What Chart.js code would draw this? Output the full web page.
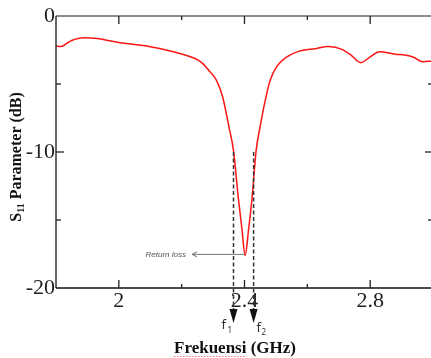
<!DOCTYPE html>
<html>
<head>
<meta charset="utf-8">
<script src="https://cdn.jsdelivr.net/npm/chart.js@4.4.1/dist/chart.umd.min.js"></script>
<style>
  html, body { margin: 0; padding: 0; overflow: hidden; background: #fff; }
  #wrap { width: 433px; height: 358px; position: relative; }
</style>
</head>
<body>
<div id="wrap"><canvas id="s11Chart"></canvas></div>
<script>
const freqGHz = [1.80, 1.815, 1.835, 1.85, 1.87, 1.89, 1.93, 2.00, 2.10, 2.20, 2.26, 2.29, 2.31, 2.33, 2.35,
  2.365, 2.38, 2.392, 2.402, 2.413, 2.424, 2.437, 2.45, 2.466, 2.482, 2.503, 2.535, 2.572, 2.626, 2.667,
  2.71, 2.74, 2.77, 2.80, 2.83, 2.88, 2.91, 2.94, 2.965, 3.00];
const s11dB = [-2.2, -2.25, -2.0, -1.8, -1.65, -1.6, -1.65, -1.95, -2.26, -2.8, -3.36, -4.1, -4.7, -5.9, -8.1,
  -9.9, -13.3, -15.7, -17.6, -15.7, -13.4, -9.9, -8.1, -6.2, -4.7, -3.7, -3.0, -2.6, -2.4, -2.25,
  -2.45, -2.9, -3.43, -3.0, -2.62, -2.82, -2.87, -3.05, -3.36, -3.3];

// tick labels
const xLabels = { 20: "2", 24: "2.4", 28: "2.8" };
const yLabels = { "0": "0", "-10": "-10", "-20": "-20" };
const xMajor = [2.0, 2.4, 2.8];
const xMinor = [2.2, 2.6];
const yMinor = [-5, -15];

// bandwidth markers and resonance
const f1 = 2.365;
const f2 = 2.429;
const fRes = 2.402;
const lossRes = -17.6;

const SERIF = "'Liberation Serif', 'DejaVu Serif', serif";

function line(ctx, x1, y1, x2, y2) {
  ctx.beginPath();
  ctx.moveTo(x1, y1);
  ctx.lineTo(x2, y2);
  ctx.stroke();
}

const framePlugin = {
  id: "frame",
  afterDraw(chart) {
    const ctx = chart.ctx;
    const xs = chart.scales.x;
    const ys = chart.scales.y;
    const a = chart.chartArea;
    ctx.save();

    // axes box (right side is off the picture)
    ctx.lineWidth = 1.5;
    ctx.strokeStyle = "#666";
    line(ctx, a.left, a.top, a.right, a.top);
    ctx.strokeStyle = "#333";
    line(ctx, a.left, a.top, a.left, a.bottom);
    ctx.strokeStyle = "#111";
    line(ctx, a.left, a.bottom, a.right, a.bottom);

    // inward ticks
    ctx.lineWidth = 1.3;
    ctx.strokeStyle = "#222";
    xMajor.forEach((v) => {
      const px = xs.getPixelForValue(v);
      line(ctx, px, a.bottom, px, a.bottom - 8);
      line(ctx, px, a.top, px, a.top + 8);
    });
    xMinor.forEach((v) => {
      const px = xs.getPixelForValue(v);
      line(ctx, px, a.bottom, px, a.bottom - 4);
      line(ctx, px, a.top, px, a.top + 4);
    });
    const y10 = ys.getPixelForValue(-10);
    line(ctx, a.left, y10, a.left + 8, y10);
    line(ctx, a.right, y10, a.right - 8, y10);
    yMinor.forEach((v) => {
      const py = ys.getPixelForValue(v);
      line(ctx, a.left, py, a.left + 5, py);
      line(ctx, a.right, py, a.right - 5, py);
    });

    // dashed -10 dB markers with arrows
    const tipY = a.bottom + 35;
    [f1, f2].forEach((f) => {
      const px = xs.getPixelForValue(f);
      ctx.strokeStyle = "#333";
      ctx.lineWidth = 1.5;
      ctx.setLineDash([4, 2.5]);
      line(ctx, px, y10, px, tipY - 12);
      ctx.setLineDash([]);
      ctx.fillStyle = "#111";
      ctx.beginPath();
      ctx.moveTo(px - 4, tipY - 14);
      ctx.lineTo(px + 4, tipY - 14);
      ctx.lineTo(px, tipY);
      ctx.closePath();
      ctx.fill();
    });

    // f1, f2 labels
    ctx.fillStyle = "#333";
    ctx.textAlign = "left";
    ctx.textBaseline = "alphabetic";
    const p1 = xs.getPixelForValue(f1);
    const p2 = xs.getPixelForValue(f2);
    ctx.font = "13px 'Noto Sans', sans-serif";
    ctx.fillText("f", p1 - 12, a.bottom + 41);
    ctx.fillText("f", p2 + 3, a.bottom + 44);
    ctx.font = "8px 'Noto Sans', sans-serif";
    ctx.fillText("1", p1 - 6, a.bottom + 45);
    ctx.fillText("2", p2 + 8, a.bottom + 47);

    // return loss annotation
    const rx = xs.getPixelForValue(fRes);
    const ry = ys.getPixelForValue(lossRes) - 1;
    ctx.strokeStyle = "#777";
    ctx.lineWidth = 1;
    line(ctx, 192, ry, rx, ry);
    line(ctx, 192, ry, 197, ry - 2.5);
    line(ctx, 192, ry, 197, ry + 2.5);
    ctx.fillStyle = "#555";
    ctx.font = "italic 8px 'Liberation Sans', sans-serif";
    ctx.textAlign = "right";
    ctx.textBaseline = "middle";
    ctx.fillText("Return loss", 186, ry);

    // x title
    ctx.fillStyle = "#111";
    ctx.font = "bold 17px " + SERIF;
    ctx.textAlign = "center";
    ctx.textBaseline = "alphabetic";
    const xt = "Frekuensi (GHz)";
    const cx = 235;
    ctx.fillText(xt, cx, 353);
    const left = cx - ctx.measureText(xt).width / 2;
    const wWord = ctx.measureText("Frekuensi").width;
    ctx.strokeStyle = "rgba(255,70,70,0.75)";
    ctx.lineWidth = 1;
    ctx.setLineDash([1.5, 1.5]);
    line(ctx, left, 356.5, left + wWord, 356.5);
    ctx.setLineDash([]);

    // y title with subscript
    ctx.save();
    ctx.translate(21, 157);
    ctx.rotate(-Math.PI / 2);
    ctx.textAlign = "left";
    const big = "bold 16px " + SERIF;
    const small = "bold 10px " + SERIF;
    ctx.font = big;
    const wS = ctx.measureText("S").width;
    const wRest = ctx.measureText(" Parameter (dB)").width;
    ctx.font = small;
    const wSub = ctx.measureText("11").width;
    let tx = -(wS + wSub + wRest) / 2;
    ctx.font = big;
    ctx.fillText("S", tx, 0);
    tx += wS;
    ctx.font = small;
    ctx.fillText("11", tx, 3);
    tx += wSub;
    ctx.font = big;
    ctx.fillText(" Parameter (dB)", tx, 0);
    ctx.restore();

    ctx.restore();
  },
};

const s11Data = {
  datasets: [
    {
      label: "S11",
      data: freqGHz.map((f, i) => ({ x: f, y: s11dB[i] })),
      borderColor: "rgb(255, 20, 20)",
      borderWidth: 1.5,
      pointRadius: 0,
      cubicInterpolationMode: "monotone",
      fill: false,
    },
  ],
};

const s11Config = {
  type: "line",
  data: s11Data,
  options: {
    responsive: true,
    maintainAspectRatio: false,
    animation: false,
    layout: { padding: { top: 16, right: 0, left: 0, bottom: 0 } },
    plugins: { legend: { display: false }, tooltip: { enabled: false } },
    scales: {
      x: {
        type: "linear",
        min: 1.8,
        max: 3.0,
        grid: { display: false, drawTicks: false, tickLength: 0 },
        border: { display: false },
        ticks: {
          stepSize: 0.2,
          padding: 0,
          maxRotation: 0,
          autoSkip: false,
          color: "#222",
          font: { family: SERIF, size: 22 },
          callback: (v) => xLabels[Math.round(v * 10)] || "",
        },
        afterFit: (scale) => { scale.height = 70; },
      },
      y: {
        min: -20,
        max: 0,
        grid: { display: false, drawTicks: false, tickLength: 0 },
        border: { display: false },
        ticks: {
          stepSize: 5,
          padding: 1,
          color: "#222",
          font: { family: SERIF, size: 22 },
          callback: (v) => yLabels[String(Math.round(v))] || "",
        },
        afterFit: (scale) => { scale.width = 56; },
      },
    },
  },
  plugins: [framePlugin],
};

const s11Chart = new Chart(document.getElementById("s11Chart"), s11Config);
</script>
</body>
</html>
